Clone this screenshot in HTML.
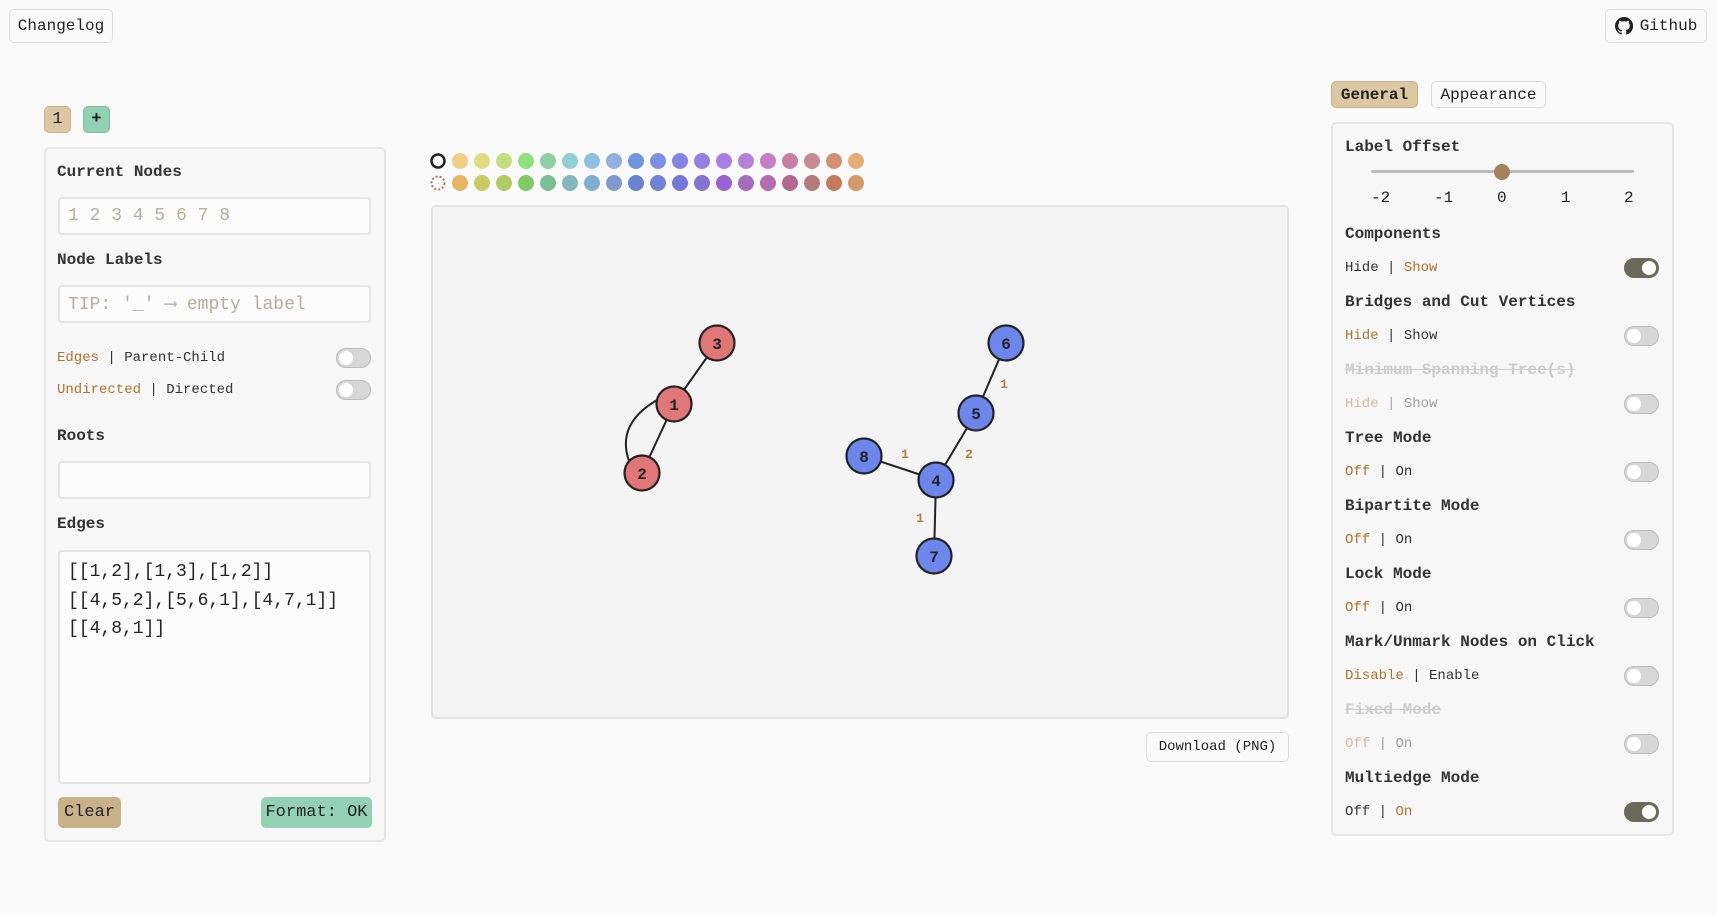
<!DOCTYPE html>
<html><head><meta charset="utf-8"><style>
body{margin:0;width:1717px;height:915px;background:#fafafa;font-family:"Liberation Mono",monospace;color:#222;position:relative;overflow:hidden}
.abs{position:absolute;box-sizing:border-box}
.btn{border:1px solid #ddd;border-radius:5px;background:#fafafa;font-size:16px;display:flex;align-items:center;justify-content:center}
.panel{border:2px solid #e6e6e6;border-radius:5px;background:#f7f7f7}
.h{font-size:16px;font-weight:bold;color:#333}
.inp{border:2px solid #e3e3e3;border-radius:4px;background:#fcfcfc;color:#b8ae9c;font-size:18px;padding-left:8px;display:flex;align-items:center}
.sm{font-size:14px;color:#333}
.or{color:#b5722f}
.dim{color:#c8c8c8}
.tg{width:35px;height:20px;border-radius:10px;background:#d7d7d7;border:1px solid #bbb}
.tg::after{content:"";position:absolute;top:2px;left:2px;width:14px;height:14px;border-radius:50%;background:#fff}
.tg.on{background:#6b6a58;border-color:#6b6a58}
.tg.on::after{left:17px}
</style></head><body>
<div class="abs btn" style="left:9px;top:9px;width:104px;height:34px">Changelog</div>
<div class="abs btn" style="left:1605px;top:9px;width:102px;height:34px"><svg width="18" height="18" viewBox="0 0 16 16" style="margin-right:7px"><path fill="#222" d="M8 0a8 8 0 0 0-2.5 15.6c.4 0 .5-.2.5-.4v-1.4c-2.2.5-2.7-1-2.7-1-.4-.9-.9-1.2-.9-1.2-.7-.5.1-.5.1-.5.8.1 1.2.8 1.2.8.7 1.2 1.900.9 2.3.7.1-.5.3-.9.5-1.1-1.8-.2-3.6-.9-3.6-4 0-.9.3-1.6.8-2.1-.1-.2-.4-1 .1-2.1 0 0 .7-.2 2.2.8a7.5 7.5 0 0 1 4 0c1.5-1 2.2-.8 2.2-.8.4 1.1.2 1.9.1 2.1.5.6.8 1.3.8 2.1 0 3.1-1.9 3.8-3.6 4 .3.3.5.8.5 1.5v2.2c0 .2.1.5.6.4A8 8 0 0 0 8 0z"/></svg>Github</div>

<div class="abs btn" style="left:44px;top:106px;width:27px;height:27px;background:#dcc7a3;border-color:#c9b28a;font-size:17px">1</div>
<div class="abs btn" style="left:83px;top:106px;width:27px;height:27px;background:#92d1b3;border-color:#7bbf9f;font-size:17px;font-weight:bold">+</div>

<div class="abs panel" style="left:44px;top:147px;width:342px;height:695px"></div>
<div class="abs h" style="left:57px;top:163px">Current Nodes</div>
<div class="abs inp" style="left:58px;top:197px;width:313px;height:38px">1 2 3 4 5 6 7 8</div>
<div class="abs h" style="left:57px;top:251px">Node Labels</div>
<div class="abs inp" style="left:58px;top:285px;width:313px;height:38px">TIP: '_' ⟶ empty label</div>
<div class="abs sm" style="left:57px;top:350px"><span class="or">Edges</span> | Parent-Child</div>
<div class="abs tg" style="left:336px;top:348px"></div>
<div class="abs sm" style="left:57px;top:382px"><span class="or">Undirected</span> | Directed</div>
<div class="abs tg" style="left:336px;top:380px"></div>
<div class="abs h" style="left:57px;top:427px">Roots</div>
<div class="abs inp" style="left:58px;top:461px;width:313px;height:38px"></div>
<div class="abs h" style="left:57px;top:515px">Edges</div>
<div class="abs" style="left:58px;top:550px;width:313px;height:234px;border:2px solid #e3e3e3;border-radius:4px;background:#fcfcfc;font-size:18px;padding:6px 8px;line-height:28.5px;color:#222">[[1,2],[1,3],[1,2]]<br>[[4,5,2],[5,6,1],[4,7,1]]<br>[[4,8,1]]</div>
<div class="abs btn" style="left:58px;top:797px;width:63px;height:31px;background:#c9b189;border-color:#c9b189;font-size:17px">Clear</div>
<div class="abs btn" style="left:261px;top:797px;width:111px;height:31px;background:#92d1b3;border-color:#92d1b3;font-size:17px">Format: OK</div>

<svg class="abs" style="left:0;top:0" width="1717" height="915" id="pal"></svg>

<div class="abs" style="left:431px;top:205px;width:858px;height:514px;border:2px solid #e3e3e3;border-radius:5px;background:#f4f4f4"></div>
<svg class="abs" style="left:0;top:0" width="1717" height="915" id="g"></svg>

<div class="abs btn" style="left:1146px;top:732px;width:143px;height:30px;font-size:14px">Download (PNG)</div>

<div class="abs btn" style="left:1331px;top:81px;width:87px;height:27px;background:#dcc7a3;border-color:#c9b28a;font-weight:bold;font-size:16px">General</div>
<div class="abs btn" style="left:1431px;top:81px;width:115px;height:27px;font-size:16px">Appearance</div>
<div class="abs panel" style="left:1331px;top:122px;width:343px;height:714px"></div>
<div class="abs h" style="left:1345px;top:138px">Label Offset</div>
<div class="abs" style="left:1371px;top:170px;width:263px;height:3px;background:#bbb;border-radius:2px"></div>
<div class="abs" style="left:1494px;top:164px;width:16px;height:16px;border-radius:50%;background:#a5805a"></div>
<div class="abs" style="left:0;top:189px;font-size:16px">
<span class="abs" style="left:1371px">-2</span><span class="abs" style="left:1434px">-1</span><span class="abs" style="left:1497px">0</span><span class="abs" style="left:1561px">1</span><span class="abs" style="left:1624px">2</span></div>
<div id="rows"></div>

<script>
const palTop=["#f0ce84","#e1de80","#c3df80","#90e07c","#8ecfa4","#90d0d0","#90c0e0","#90b0e0","#6e95e0","#7e90e6","#8284e6","#9480e2","#a87fe4","#b482d8","#c67ec8","#c67ea4","#c68a94","#d48f74","#e6ac74"];
const palBot=["#e4b660","#c8cc60","#b0cc64","#80cc64","#7cbf94","#80b8bc","#80aed0","#809ad0","#6a82d4","#6e82d8","#7478d8","#8474d4","#9864d0","#a66cc0","#b46cb0","#b46890","#b47a7c","#c47a5c","#d49a6c"];
const ns="http://www.w3.org/2000/svg";
const pal=document.getElementById('pal');
function mk(p,t,a){const e=document.createElementNS(ns,t);for(const k in a)e.setAttribute(k,a[k]);p.appendChild(e);return e;}
let c=mk(pal,'circle',{cx:438,cy:161,r:6.5,fill:'none',stroke:'#222','stroke-width':2.5});


c=mk(pal,'circle',{cx:438,cy:183,r:6.5,fill:'none',stroke:'#c07060','stroke-width':2,'stroke-dasharray':'2 2'});


palTop.forEach((col,i)=>{const e=mk(pal,'circle',{cx:460+i*22,cy:161,r:8,fill:col});

});
palBot.forEach((col,i)=>{const e=mk(pal,'circle',{cx:460+i*22,cy:183,r:8,fill:col});

});

const nodeIds=["1","2","3","4","5","6","7","8"];
const nodeX=[674,642,717,936,976,1006,934,864];
const nodeY=[404,473,343,480,413,343,556,456];
const nodeColor=["#e07676","#e07676","#e07676","#6d86ec","#6d86ec","#6d86ec","#6d86ec","#6d86ec"];
const edgeFrom=["1","1","4","5","4","4"];
const edgeTo=["2","3","5","6","7","8"];
const edgeW=["","","2","1","1","1"];
const edgeLabelPos=[[0,0],[0,0],[969,453],[1004,383],[920,517],[905,453]];
const g=document.getElementById('g');
const idx=id=>nodeIds.indexOf(id);
edgeFrom.forEach((f,i)=>{const a=idx(f),b=idx(edgeTo[i]);
const l=mk(g,'line',{x1:nodeX[a],y1:nodeY[a],x2:nodeX[b],y2:nodeY[b],stroke:'#222','stroke-width':2});


if(edgeW[i]){const t=mk(g,'text',{x:edgeLabelPos[i][0],y:edgeLabelPos[i][1]+5,'text-anchor':'middle','font-size':13,'font-weight':'bold',fill:'#b5803f','font-family':'Liberation Mono, monospace'});t.textContent=edgeW[i];

}});
{const a=idx("1"),b=idx("2");
const p=mk(g,'path',{d:`M${nodeX[a]-17},${nodeY[a]-4} Q${nodeX[a]-58},${nodeY[a]+20} ${nodeX[b]-13},${nodeY[b]-12}`,fill:'none',stroke:'#222','stroke-width':2});

}
nodeIds.forEach((id,i)=>{const cc=mk(g,'circle',{cx:nodeX[i],cy:nodeY[i],r:17.5,fill:nodeColor[i],stroke:'#222','stroke-width':2.2});


const t=mk(g,'text',{x:nodeX[i],y:nodeY[i]+6,'text-anchor':'middle','font-size':16,'font-weight':'bold',fill:'#222','font-family':'Liberation Mono, monospace'});t.textContent=id;

});

const rows=[["Components","Hide","Show",1,true,false],["Bridges and Cut Vertices","Hide","Show",0,false,false],["Minimum Spanning Tree(s)","Hide","Show",0,false,true],["Tree Mode","Off","On",0,false,false],["Bipartite Mode","Off","On",0,false,false],["Lock Mode","Off","On",0,false,false],["Mark/Unmark Nodes on Click","Disable","Enable",0,false,false],["Fixed Mode","Off","On",0,false,true],["Multiedge Mode","Off","On",1,true,false]];
const R=document.getElementById('rows');
rows.forEach((r,i)=>{const y=225+i*68;
const h=document.createElement('div');h.className='abs h';h.style.left='1345px';h.style.top=y+'px';h.textContent=r[0];
if(r[5]){h.style.color='#ccc';h.style.textDecoration='line-through';}


R.appendChild(h);
const s=document.createElement('div');s.className='abs sm';s.style.left='1345px';s.style.top=(y+35)+'px';
const o1=r[3]===0?'or':'',o2=r[3]===1?'or':'';
s.innerHTML=`<span class="${o1}">${r[1]}</span> | <span class="${o2}">${r[2]}</span>`;
if(r[5]){s.style.opacity='0.45';}


R.appendChild(s);
const t=document.createElement('div');t.className='abs tg'+(r[4]?' on':'');t.style.left='1624px';t.style.top=(y+33)+'px';


R.appendChild(t);});
</script>
</body></html>
